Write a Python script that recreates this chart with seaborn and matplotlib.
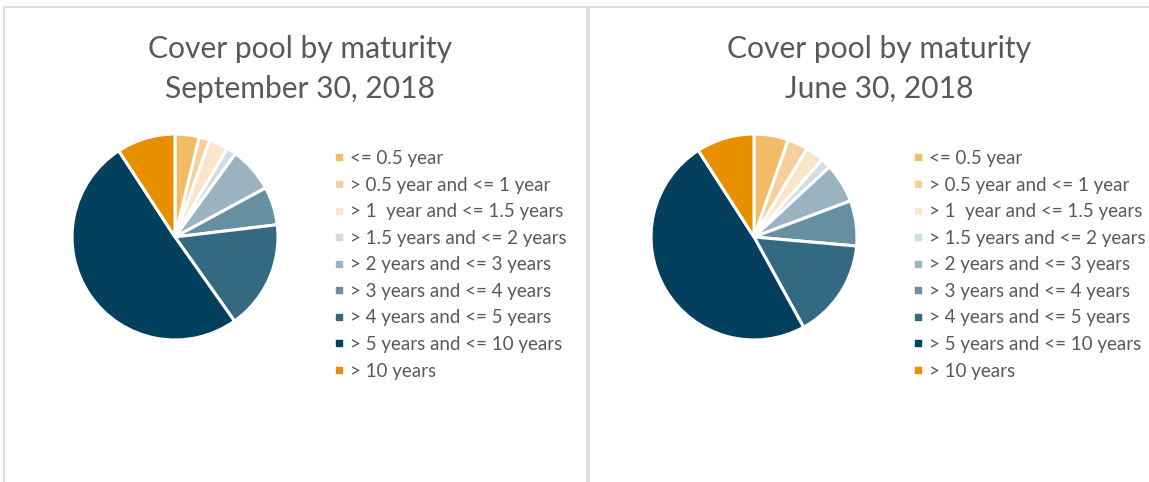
import matplotlib
matplotlib.use("Agg")
import matplotlib.pyplot as plt
from matplotlib.lines import Line2D
from matplotlib.patches import Rectangle
import seaborn as sns

# Maturity buckets and shares (%)
categories = ["<= 0.5 year", "> 0.5 year and <= 1 year", "> 1  year and <= 1.5 years",
              "> 1.5 years and <= 2 years", "> 2 years and <= 3 years", "> 3 years and <= 4 years",
              "> 4 years and <= 5 years", "> 5 years and <= 10 years", "> 10 years"]
sep_2018 = [3.8, 1.7, 3.0, 1.5, 7.1, 6.0, 17.1, 50.6, 9.2]
jun_2018 = [5.4, 3.2, 2.9, 1.6, 6.2, 7.1, 15.6, 48.9, 9.1]
titles = ["Cover pool by maturity\nSeptember 30, 2018", "Cover pool by maturity\nJune 30, 2018"]

colors = sns.color_palette(["#F2BC66", "#F5D09C", "#FAE6CB", "#D0DDE3", "#99B3C1",
                            "#6690A1", "#336A82", "#02405E", "#E88F00"])

sns.set_theme(style="white")
plt.rcParams["font.family"] = ["Lato", "DejaVu Sans"]

W, H = 1149, 482
fig = plt.figure(figsize=(W / 100, H / 100), dpi=100)
fig.patch.set_facecolor("white")

text_col = "#595959"

def px_axes(cx, cy, r):
    # axes box in pixels (top-left origin) -> figure fraction
    return [(cx - r) / W, 1 - (cy + r) / H, 2 * r / W, 2 * r / H]

panels = [
    dict(data=sep_2018, title=titles[0], box=(4, 7, 583), pie=(175, 237, 104),
         tx=300, leg_x=334),
    dict(data=jun_2018, title=titles[1], box=(589, 7, 620), pie=(754, 237, 104),
         tx=879, leg_x=913),
]

for p in panels:
    bx, by, bw = p["box"]
    # panel frame, running off the bottom of the picture like the original
    fig.patches.append(Rectangle((bx / W, -0.1), bw / W, 1.1 - by / H,
                                 transform=fig.transFigure, fill=False,
                                 edgecolor="#D9D9D9", linewidth=1.2))
    ax = fig.add_axes(px_axes(*p["pie"]))
    ax.pie(p["data"], colors=colors, startangle=90, counterclock=False, radius=1,
           wedgeprops=dict(edgecolor="white", linewidth=2.2))
    ax.set_xlim(-1.01, 1.01)
    ax.set_ylim(-1.01, 1.01)
    ax.set_aspect("equal")
    ax.axis("off")
    fig.text(p["tx"] / W, 1 - 69 / H, p["title"], ha="center", va="center",
             fontsize=21.6, color=text_col, linespacing=1.48)
    handles = [Line2D([], [], marker="s", linestyle="none", markersize=5,
                      markerfacecolor=c, markeredgecolor=c) for c in colors]
    fig.legend(handles, categories, loc="upper left",
               bbox_to_anchor=(p["leg_x"] / W, 1 - 150 / H), frameon=False,
               fontsize=13.5, labelcolor=text_col, handlelength=0.5,
               handletextpad=0.36, labelspacing=0.51, borderpad=0, borderaxespad=0)

fig.savefig("out.png", dpi=100)
